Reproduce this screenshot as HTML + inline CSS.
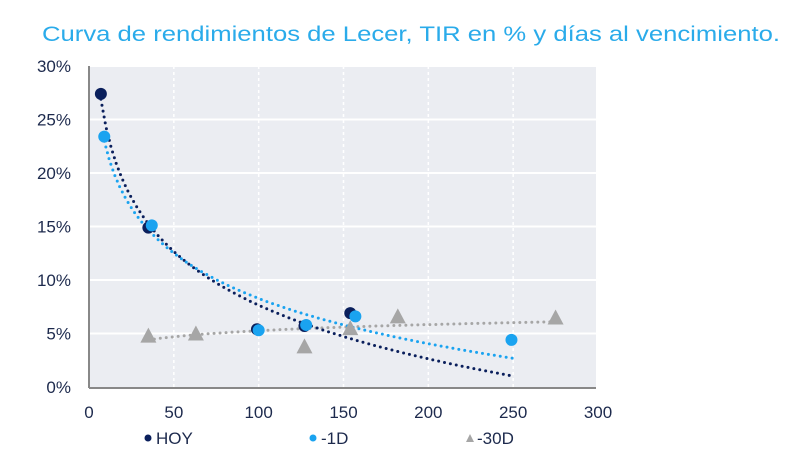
<!DOCTYPE html>
<html><head><meta charset="utf-8"><style>
body{margin:0;background:#fff;width:800px;height:469px;overflow:hidden}
svg text{font-family:"Liberation Sans",sans-serif}
</style></head><body>
<svg id="c" width="800" height="469">
<text x="42" y="41" font-size="21" textLength="738" lengthAdjust="spacingAndGlyphs" fill="#2aabea">Curva de rendimientos de Lecer, TIR en % y días al vencimiento.</text>
<rect x="89" y="66" width="507" height="321" fill="#ebedf2"/>
<g id="grid"></g><g id="trend"></g><g id="marks"></g><g id="axes"></g>
<g font-size="17" fill="#1d2a4d">
<circle cx="148" cy="438" r="3.5" fill="#0a1f5c"/>
<text x="156" y="444">HOY</text>
<circle cx="313" cy="438" r="3.5" fill="#1aa3f0"/>
<text x="321" y="444">-1D</text>
<polygon points="466,442 474,442 470,434" fill="#a6a6a6"/>
<text x="477" y="444">-30D</text>
</g>
</svg>
<script>
const xTicks=[0,50,100,150,200,250,300];
const yTicks=[0,5,10,15,20,25,30];
const hoyX=[7,35,99,127,154];
const hoyY=[27.4,14.9,5.4,5.7,6.9];
const d1X=[9,37,100,128,157,249];
const d1Y=[23.4,15.1,5.3,5.8,6.6,4.4];
const d30X=[35,63,127,154,182,275];
const d30Y=[4.8,5.0,3.8,5.5,6.6,6.5];
const NS="http://www.w3.org/2000/svg";
const X=v=>89+v*(598-89)/300, Y=v=>387-v*(387-66)/30;
function mk(t,a,p){const e=document.createElementNS(NS,t);for(const k in a)e.setAttribute(k,a[k]);document.getElementById(p).appendChild(e);return e;}
yTicks.forEach(v=>{if(v>0){const l=mk('line',{x1:89,x2:596,y1:Y(v),y2:Y(v),stroke:'#fff','stroke-width':2},'grid');

}
const t=mk('text',{x:71,y:Y(v)+6,'text-anchor':'end','font-size':17,fill:'#1d2a4d'},'axes');t.textContent=v+'%';

});
xTicks.forEach(v=>{if(v>0&&v<300){const l=mk('line',{x1:X(v),x2:X(v),y1:66,y2:387,stroke:'#fff','stroke-width':1.5,'stroke-dasharray':'3,3'},'grid');

}
const t=mk('text',{x:X(v),y:418,'text-anchor':'middle','font-size':17,fill:'#1d2a4d'},'axes');t.textContent=v;

});
const ax=mk('line',{x1:89,x2:89,y1:66,y2:388,stroke:'#888','stroke-width':2},'axes');


const bx=mk('line',{x1:89,x2:596,y1:388,y2:388,stroke:'#888','stroke-width':2},'axes');


function trend(xs,ys,x0,x1,col,name){
 const n=xs.length,L=xs.map(Math.log);let mx=0,my=0;L.forEach((l,i)=>{mx+=l/n;my+=ys[i]/n});
 let sxy=0,sxx=0;L.forEach((l,i)=>{sxy+=(l-mx)*(ys[i]-my);sxx+=(l-mx)*(l-mx)});
 const b=sxy/sxx,a=my-b*mx;let d='';
 for(let i=0;i<=80;i++){const x=x0+(x1-x0)*i/80;d+=(i?'L':'M')+X(x).toFixed(1)+','+Y(a+b*Math.log(x)).toFixed(1);}
 const p=mk('path',{d:d,fill:'none',stroke:col,'stroke-width':3,'stroke-dasharray':'0,6','stroke-linecap':'round'},'trend');
 
 }
trend(d30X,d30Y,35,275,'#a6a6a6','trend-30d');
trend(hoyX,hoyY,7,250,'#0a1f5c','trend-hoy');
trend(d1X,d1Y,9,250,'#1aa3f0','trend-1d');
d30X.forEach((x,i)=>{const cx=X(x),cy=Y(d30Y[i]);const p=mk('polygon',{points:`${cx-8},${cy+7} ${cx+8},${cy+7} ${cx},${cy-8}`,fill:'#a6a6a6'},'marks');

});
hoyX.forEach((x,i)=>{const c=mk('circle',{cx:X(x),cy:Y(hoyY[i]),r:6,fill:'#0a1f5c'},'marks');

});
d1X.forEach((x,i)=>{const c=mk('circle',{cx:X(x),cy:Y(d1Y[i]),r:6,fill:'#1aa3f0'},'marks');

});
</script>
</body></html>
